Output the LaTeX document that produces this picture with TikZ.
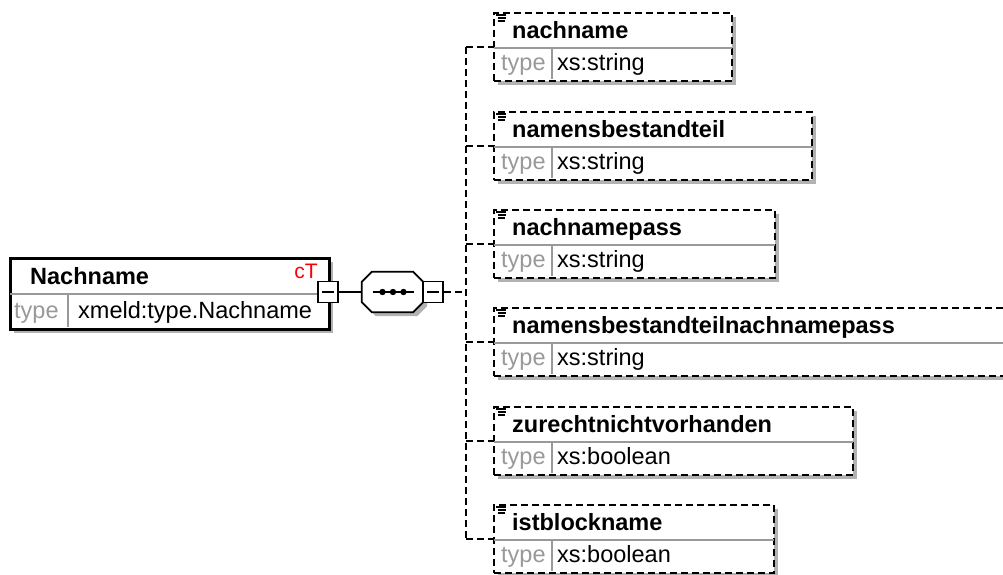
\documentclass[tikz,border=0pt]{standalone}
\usepackage{fontspec}
\setmainfont{Liberation Sans}
\usetikzlibrary{shadows,calc}
\tikzset{
  shad/.style={drop shadow={shadow xshift=4pt, shadow yshift=-4pt, fill=gray!60, opacity=1}},
  elem/.style={rectangle, draw=black, line width=2.4pt, dash pattern=on 7pt off 4pt, fill=white,
     anchor=north west, minimum height=68pt, inner sep=0pt, shad},
  mainbox/.style={rectangle, draw=black, line width=2.8pt, fill=white, anchor=north west,
     minimum width=319pt, minimum height=71pt, inner sep=0pt, shad},
  divl/.style={draw=gray!80, line width=2.2pt},
  nm/.style={anchor=base west, inner sep=0pt, font=\fontsize{23.5}{28}\selectfont\bfseries},
  tp/.style={anchor=base west, inner sep=0pt, font=\fontsize{23.5}{28}\selectfont, text=gray!80},
  val/.style={anchor=base west, inner sep=0pt, font=\fontsize{23.5}{28}\selectfont},
  minusbox/.style={rectangle, draw=black, line width=1.8pt, fill=white, minimum width=20pt,
     minimum height=21pt, inner sep=0pt},
  seqnode/.style={rectangle, draw=none, minimum width=61pt, minimum height=40pt, inner sep=0pt},
  octa/.style={draw=black, line width=1.8pt, fill=white, shad},
  conn/.style={draw=black, line width=2.4pt, dash pattern=on 7pt off 4pt},
  solidc/.style={draw=black, line width=1.8pt},
  ic/.style={draw=black, line width=1.7pt}
}
\begin{document}
\begin{tikzpicture}[x=1pt,y=-1pt]
\useasboundingbox (0,0) rectangle (1003,574);
\clip (0,0) rectangle (1003,574);
% main element
\node[mainbox] (m) at (9,257) {};
\draw[divl] (10,294) -- (327,294);
\draw[divl] (68,294) -- (68,327);
\node[nm] (mname) at (30,284) {Nachname};
\node[anchor=base east, inner sep=0pt, font=\fontsize{21}{24}\selectfont, text=red] (mct) at (318,278) {cT};
\node[tp] (mtype) at (14,318) {type};
\node[val] (mval) at (78,318) {xmeld:type.Nachname};
% minus box of main
\node[minusbox] (mb) at (328,292) {};
\draw[solidc] ([xshift=-6pt]mb.center) -- ([xshift=6pt]mb.center);
% sequence
\node[seqnode] (s) at (392.5,292) {};
\path[octa] ($(s.north west)+(10,0)$) -- ($(s.north east)+(-10,0)$) -- ($(s.north east)+(0,10)$)
  -- ($(s.south east)+(0,-10)$) -- ($(s.south east)+(-10,0)$) -- ($(s.south west)+(10,0)$)
  -- ($(s.south west)+(0,-10)$) -- ($(s.north west)+(0,10)$) -- cycle;
\draw[solidc] (s.center) ++(-20,0) -- ++(41,0);
\fill (s.center) ++(-10,0) circle (3.2pt);
\fill (s.center) ++(0.5,0) circle (3.2pt);
\fill (s.center) ++(11,0) circle (3.2pt);
\node[minusbox] (sb) at (433,292) {};
\draw[solidc] ([xshift=-6pt]sb.center) -- ([xshift=6pt]sb.center);
\draw[solidc] (mb.east) -- (s.west);
\coordinate (j) at (466,292);
\draw[conn] (sb.east) -- (j);
% children
\node[elem, minimum width=238pt] (c1) at (493,12) {};
\node[elem, minimum width=318pt] (c2) at (493,111) {};
\node[elem, minimum width=281pt] (c3) at (493,209) {};
\node[elem, minimum width=600pt] (c4) at (493,307) {};
\node[elem, minimum width=359pt] (c5) at (493,406) {};
\node[elem, minimum width=280pt] (c6) at (493,504) {};
\draw[conn] (j |- c1.west) -- (j |- c6.west);
\foreach \c/\t/\n/\v in {c1/12/nachname/xs:string, c2/111/namensbestandteil/xs:string,
  c3/209/nachnamepass/xs:string, c4/307/namensbestandteilnachnamepass/xs:string,
  c5/406/zurechtnichtvorhanden/xs:boolean, c6/504/istblockname/xs:boolean}{
  \draw[conn] (j |- \c.west) -- (\c.west);
  \draw[divl] ($(\c.north west)+(1.2,36)$) -- ($(\c.north east)+(-1.2,36)$);
  \draw[divl] (552,\t+36) -- (552,\t+67);
  \draw[ic] (496,\t+3) -- (506,\t+3);
  \draw[ic] (498,\t+6) -- (506,\t+6);
  \draw[ic] (498,\t+9) -- (505,\t+9);
  \node[nm] (\c n) at (512,\t+26) {\n};
  \node[tp] (\c t) at (501,\t+58) {type};
  \node[val] (\c v) at (557,\t+58) {\v};
}
\end{tikzpicture}
\end{document}
